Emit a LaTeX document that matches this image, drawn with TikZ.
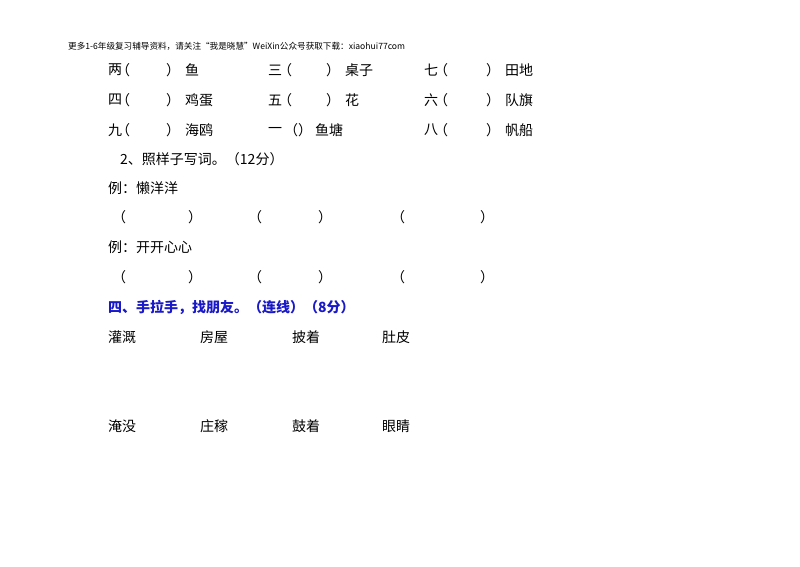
\documentclass[tikz,border=0pt]{standalone}
\usepackage{fontspec}
\setmainfont{Liberation Serif}
\newfontfamily\cjk{Noto Sans CJK SC}
\definecolor{qblue}{RGB}{25,25,200}
\begin{document}
\begin{tikzpicture}[x=1pt,y=-1pt,
  t/.style={anchor=west,inner sep=0,font=\cjk\fontsize{14}{16}\selectfont},
  hd/.style={anchor=west,inner sep=0,font=\cjk\fontsize{8.6}{10}\selectfont},
  bl/.style={anchor=west,inner sep=0,text=qblue,font=\cjk\bfseries\fontsize{14}{16}\selectfont}]
\path[use as bounding box,fill=white] (0,0) rectangle (800,566);
\node[hd] (h) at (68,46) {更多1-6年级复习辅导资料，请关注“我是晓慧”WeiXin公众号获取下载：xiaohui77com};
\foreach \y/\a/\b/\c/\d/\e/\f [count=\i] in {70/两/鱼/三/桌子/七/田地,100/四/鸡蛋/五/花/六/队旗}{
  \node[t] (a\i) at (108,\y) {\a};
  \node[t] (ap\i) at (116,\y) {（};
  \node[t] (aq\i) at (166,\y) {）};
  \node[t] (aw\i) at (185,\y) {\b};
  \node[t] (b\i) at (268,\y) {\c};
  \node[t] (bp\i) at (278,\y) {（};
  \node[t] (bq\i) at (326,\y) {）};
  \node[t] (bw\i) at (345,\y) {\d};
  \node[t] (c\i) at (424,\y) {\e};
  \node[t] (cp\i) at (434,\y) {（};
  \node[t] (cq\i) at (486,\y) {）};
  \node[t] (cw\i) at (505,\y) {\f};
}
\node[t] (a3) at (108,130) {九};
\node[t] (ap3) at (116,130) {（};
\node[t] (aq3) at (166,130) {）};
\node[t] (aw3) at (185,130) {海鸥};
\node[t] (b3) at (268,130) {一};
\node[t] (bp3) at (284,130) {（）};
\node[t] (bw3) at (315,130) {鱼塘};
\node[t] (c3) at (424,130) {八};
\node[t] (cp3) at (434,130) {（};
\node[t] (cq3) at (486,130) {）};
\node[t] (cw3) at (505,130) {帆船};
\node[t] (q2) at (120,159) {2、照样子写词。（12分）};
\node[t] (e1) at (108,188) {例：懒洋洋};
\node[t] (e2) at (108,247) {例：开开心心};
\foreach \y [count=\j] in {217,277}{
  \node[t] (p\j a) at (112,\y) {（};
  \node[t] (p\j b) at (188,\y) {）};
  \node[t] (p\j c) at (248,\y) {（};
  \node[t] (p\j d) at (318,\y) {）};
  \node[t] (p\j e) at (391,\y) {（};
  \node[t] (p\j f) at (480,\y) {）};
}
\node[bl] (s4) at (108,307) {四、手拉手，找朋友。（连线）（8分）};
\foreach \w/\x [count=\k] in {灌溉/108,房屋/200,披着/292,肚皮/382}{\node[t] (u\k) at (\x,337) {\w};}
\foreach \w/\x [count=\k] in {淹没/108,庄稼/200,鼓着/292,眼睛/382}{\node[t] (l\k) at (\x,426) {\w};}
\end{tikzpicture}
\end{document}
